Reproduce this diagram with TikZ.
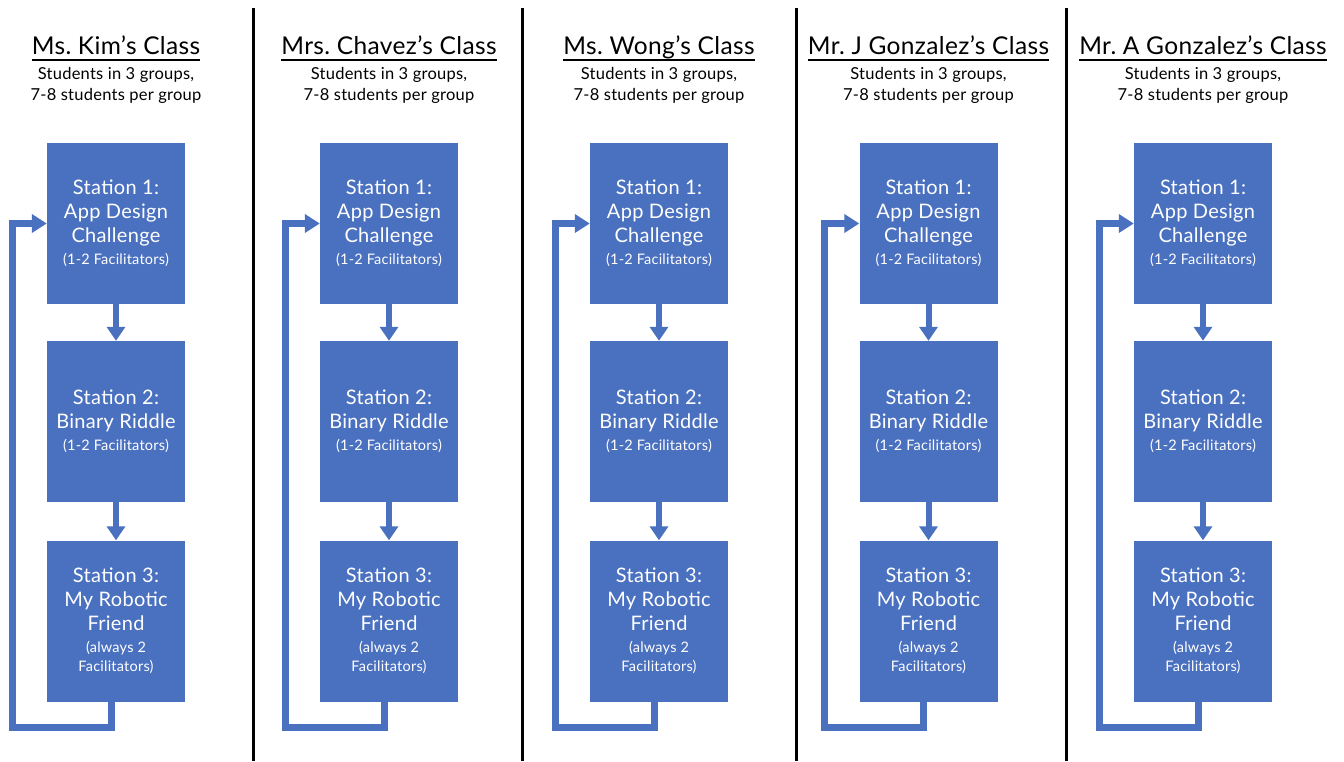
\documentclass[tikz,border=0pt]{standalone}
\usepackage{fontspec}
\setmainfont{Lato}[LetterSpace=1.5]
\usetikzlibrary{arrows.meta}
\definecolor{boxblue}{HTML}{4A70C0}
\frenchspacing
\tikzset{
  box/.style={fill=boxblue, text=white, minimum width=138pt, minimum height=161pt, inner sep=0pt, align=center, font=\fontsize{20}{24}\selectfont},
  flow/.style={draw=boxblue, line width=6pt, -{Triangle[width=18pt,length=14pt]}},
  loopline/.style={draw=boxblue, line width=7pt, line join=miter, -{Triangle[width=18pt,length=15pt]}},
  divider/.style={draw=black, line width=3pt},
  title/.style={font=\fontsize{24.5}{28}\selectfont, inner sep=0pt, anchor=base},
  uline/.style={draw=black, line width=1.3pt},
  sub/.style={font=\fontsize{16.5}{21}\selectfont, align=center, inner sep=0pt},
}
\newcommand{\smalltxt}[1]{{\fontsize{14.5}{19}\selectfont #1}}
\begin{document}
\begin{tikzpicture}[x=1pt,y=-1pt]
\useasboundingbox (0,0) rectangle (1344,761);
\foreach \x in {253,522,796,1066}{\draw[divider] (\x,8) -- (\x,761);}
\foreach \i/\cx/\name in {1/116/Ms. Kim’s Class,2/389/Mrs. Chavez’s Class,3/659/Ms. Wong’s Class,4/928.5/Mr. J Gonzalez’s Class,5/1203/Mr. A Gonzalez’s Class}{
  \node[title] (t\i) at (\cx,54) {\name};
  \draw[uline] ([yshift=-6pt]t\i.base west) -- ([yshift=-6pt]t\i.base east);
  \node[sub] (d\i) at (\cx,85) {Students in 3 groups,\\7-8 students per group};
  \node[box] (s1-\i) at (\cx,223.5) {Station 1:\\App Design\\Challenge\\[-2pt]\smalltxt{(1-2 Facilitators)}};
  \node[box] (s2-\i) at (\cx,421.5) {Station 2:\\Binary Riddle\\[-2pt]\smalltxt{(1-2 Facilitators)}};
  \node[box] (s3-\i) at (\cx,621) {Station 3:\\My Robotic\\Friend\\[-2pt]\smalltxt{(always 2}\\[-5pt]\smalltxt{Facilitators)}};
  \draw[flow] (s1-\i) -- (s2-\i);
  \draw[flow] (s2-\i) -- (s3-\i);
  \coordinate (b\i) at ({\cx-104},727);
  \draw[loopline] ([xshift=-5pt]s3-\i.south) |- (b\i) |- (s1-\i.west);
}
\end{tikzpicture}
\end{document}
